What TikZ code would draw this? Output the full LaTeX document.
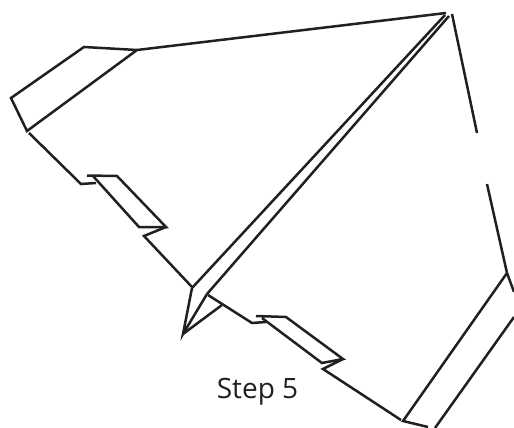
\documentclass[tikz,border=0pt]{standalone}
\usepackage{fontspec}
\setmainfont{Open Sans}
\begin{document}
\begin{tikzpicture}[x=1pt, y=-1pt, fold/.style={line width=2.5pt, line join=miter}]
    \definecolor{myfold}{RGB}{35,31,32}
    \useasboundingbox (0,0) rectangle (514,428);

    % top wing
    \draw[myfold, fold] (137,50) -- (84,47) -- (11,98) -- (27,131) -- (137,50);
    \draw[myfold, fold] (137,50) -- (446,13);

    % left edge with notch
    \draw[myfold, fold] (29,133) -- (81,184) -- (96,183);
    \draw[myfold, fold] (87,175.5) -- (117,176) -- (166,227) -- (139,227) -- (93,176);
    \draw[myfold, fold] (166,227) -- (144,236) -- (192,287);

    % centre fold and nose
    \draw[myfold, fold] (192,288) -- (445,15);
    \draw[myfold, fold] (207,294) -- (449,16);
    \draw[myfold, fold] (192,288) -- (183,334) -- (207,294);
    \draw[myfold, fold] (183,334) -- (222,305);

    % lower edge with notch
    \draw[myfold, fold] (208,295) -- (252,323) -- (266,322);
    \draw[myfold, fold] (256,316) -- (286,317) -- (343,359) -- (322,363) -- (262,318);
    \draw[myfold, fold] (343,359) -- (323,369) -- (401,420);

    % right side
    \draw[myfold, fold] (452,14) -- (477,133);
    \draw[myfold, fold] (487,184) -- (507,273) -- (514,292);
    \draw[myfold, fold] (507,273) -- (403,421) -- (428,427);
    \draw[myfold, fold] (514,317) -- (435,428);

    \node[text=myfold, anchor=base, inner sep=0pt, font=\fontsize{28}{32}\selectfont] (steplabel) at (257.5,398) {Step 5};
\end{tikzpicture}
\end{document}
